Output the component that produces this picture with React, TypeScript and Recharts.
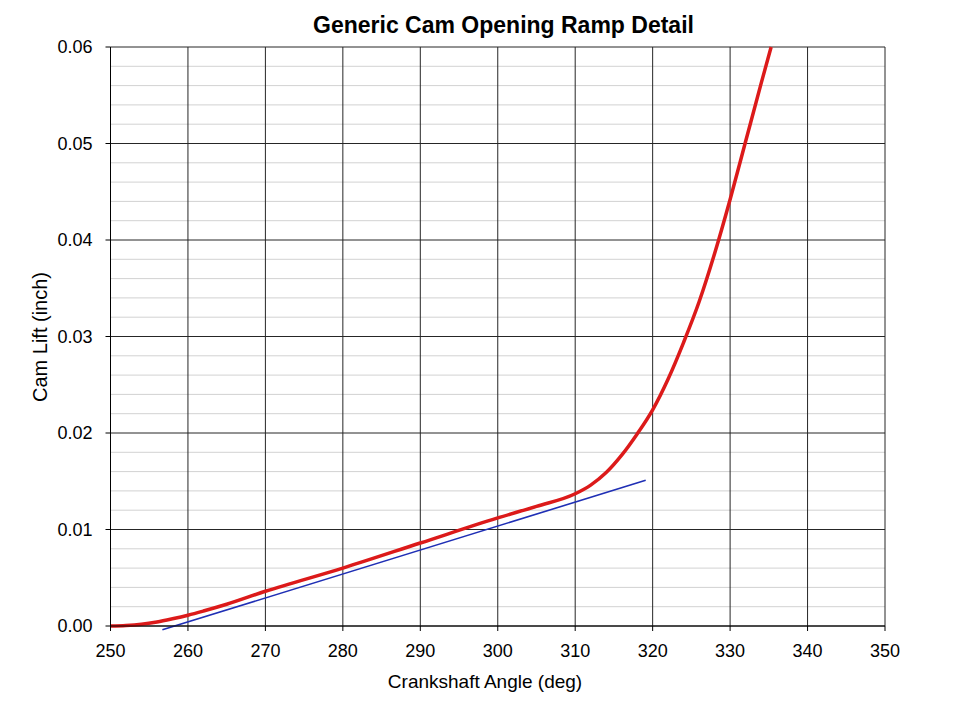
import { LineChart, Line, XAxis, YAxis, CartesianGrid, ReferenceLine } from "recharts";

// Red curve: cam lift vs crankshaft angle
const angles = [
  250, 252, 254, 256, 258, 260, 262, 265, 270, 280, 290, 300, 305, 310, 312, 314,
  316, 318, 320, 322, 324, 326, 328, 330, 332, 334, 335.3,
];
const lifts = [
  0, 0.00005, 0.00018, 0.00042, 0.00075, 0.00112, 0.00155, 0.00225, 0.0036, 0.006,
  0.0086, 0.0112, 0.0124, 0.0137, 0.0146, 0.0159, 0.0177, 0.0199, 0.0224, 0.0256,
  0.0294, 0.0336, 0.0386, 0.0442, 0.0502, 0.0562, 0.06,
];

// Blue straight ramp line (two end points)
const rampAngles = [256.7, 319.1];
const rampLifts = [-0.0004, 0.0151];

const xTicks = [250, 260, 270, 280, 290, 300, 310, 320, 330, 340, 350];
const yTicks = [0, 0.01, 0.02, 0.03, 0.04, 0.05, 0.06];
const yMinor = [
  0.002, 0.004, 0.006, 0.008, 0.012, 0.014, 0.016, 0.018, 0.022, 0.024, 0.026,
  0.028, 0.032, 0.034, 0.036, 0.038, 0.042, 0.044, 0.046, 0.048, 0.052, 0.054,
  0.056, 0.058,
];

const rows = angles.map((a, i) => ({ angle: a, lift: lifts[i] }));
const font = "'Liberation Sans', Arial, sans-serif";
const tick = { fill: "#000", fontSize: 18, fontFamily: font };

export default function App() {
  return (
    <div style={{ position: "relative", width: 942, height: 711, fontFamily: font }}>
      <div
        style={{
          position: "absolute",
          left: 0,
          width: 991,
          top: 4,
          textAlign: "center",
          fontSize: 23,
          fontWeight: "bold",
        }}
      >
        Generic Cam Opening Ramp Detail
      </div>
      <div
        style={{
          position: "absolute",
          left: 0,
          width: 954,
          top: 663,
          textAlign: "center",
          fontSize: 19,
        }}
      >
        Crankshaft Angle (deg)
      </div>
      <div
        style={{
          position: "absolute",
          left: 32,
          top: 329,
          width: 0,
          height: 0,
        }}
      >
        <div
          style={{
            position: "absolute",
            transform: "translate(-50%, -50%) rotate(-90deg)",
            whiteSpace: "nowrap",
            fontSize: 20,
          }}
        >
          Cam Lift (inch)
        </div>
      </div>
      <LineChart
        width={942}
        height={711}
        data={rows}
        margin={{ top: 39, right: 65, bottom: 53, left: 0 }}
      >
        <CartesianGrid
          horizontalValues={yMinor}
          vertical={false}
          stroke="#d2d2d2"
          strokeWidth={1}
        />
        <CartesianGrid stroke="#262626" strokeWidth={1} />
        <XAxis
          dataKey="angle"
          type="number"
          domain={[250, 350]}
          ticks={xTicks}
          interval={0}
          tick={tick}
          tickSize={5}
          tickMargin={13}
          height={40}
          axisLine={{ stroke: "#000" }}
          tickLine={{ stroke: "#000" }}
        />
        <YAxis
          type="number"
          domain={[0, 0.06]}
          ticks={yTicks}
          interval={0}
          tickFormatter={(v: number) => v.toFixed(2)}
          tick={tick}
          tickSize={5}
          tickMargin={13}
          width={102.5}
          axisLine={{ stroke: "#000" }}
          tickLine={{ stroke: "#000" }}
        />
        <ReferenceLine
          segment={[
            { x: rampAngles[0], y: rampLifts[0] },
            { x: rampAngles[1], y: rampLifts[1] },
          ]}
          ifOverflow="visible"
          stroke="#1f2fb5"
          strokeWidth={1.6}
        />
        <Line
          dataKey="lift"
          type="monotone"
          stroke="#dc1a1a"
          strokeWidth={3.5}
          dot={false}
          isAnimationActive={false}
        />
      </LineChart>
    </div>
  );
}
